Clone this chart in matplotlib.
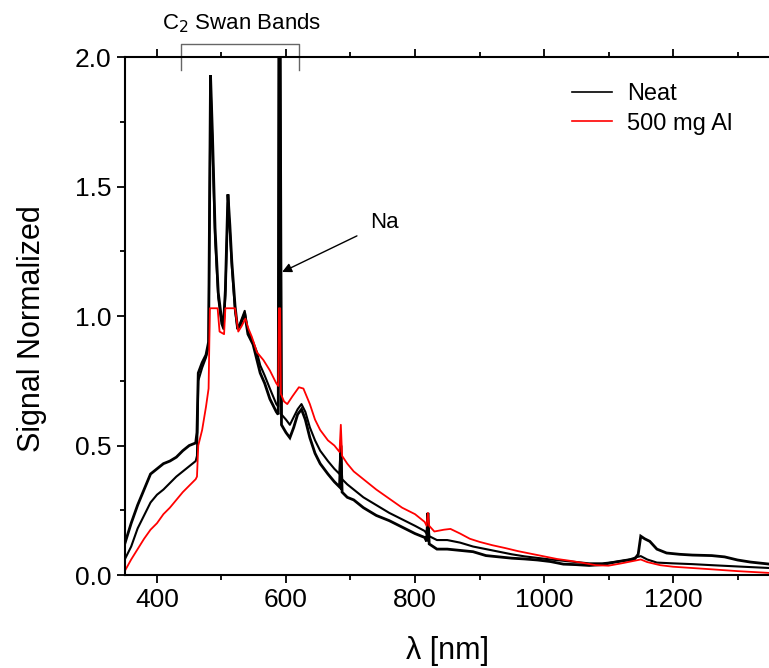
import matplotlib
matplotlib.use("Agg")
import matplotlib.pyplot as plt
from matplotlib.ticker import MultipleLocator, FormatStrFormatter

plt.rcParams['font.family'] = ['Liberation Sans', 'DejaVu Sans']

# ---- data ----
wl_red = [350, 360, 370, 380, 390, 400, 410, 420, 430, 440, 450, 460, 462, 464, 470, 476, 480,
          482, 494, 497, 504, 506, 521, 526, 531, 537, 542, 547, 555, 565, 575, 585, 588, 589,
          591, 592, 597, 602, 610, 620, 627, 637, 645, 653, 665, 675, 683, 685, 687, 695, 705,
          720, 740, 760, 780, 800, 815, 818, 820, 822, 830, 845, 855, 870, 885, 900, 920, 940,
          960, 980, 1000, 1020, 1040, 1060, 1080, 1100, 1120, 1140, 1150, 1160, 1180, 1200,
          1230, 1260, 1300, 1350]
sig_red = [0.015, 0.06, 0.10, 0.14, 0.175, 0.20, 0.235, 0.26, 0.29, 0.32, 0.345, 0.37, 0.38,
           0.50, 0.56, 0.65, 0.72, 1.03, 1.03, 0.94, 0.93, 1.03, 1.03, 0.94, 0.96, 0.99, 0.95,
           0.92, 0.86, 0.83, 0.79, 0.74, 0.73, 1.03, 1.03, 0.70, 0.67, 0.66, 0.69, 0.725, 0.72,
           0.66, 0.60, 0.56, 0.52, 0.50, 0.475, 0.58, 0.46, 0.43, 0.40, 0.37, 0.33, 0.295, 0.26,
           0.235, 0.205, 0.19, 0.24, 0.19, 0.168, 0.175, 0.178, 0.16, 0.14, 0.128, 0.115, 0.104,
           0.092, 0.082, 0.072, 0.062, 0.055, 0.047, 0.038, 0.036, 0.045, 0.055, 0.06, 0.05,
           0.038, 0.032, 0.027, 0.022, 0.015, 0.008]

wl_neat1 = [350, 360, 370, 380, 390, 400, 410, 420, 430, 440, 450, 460, 462, 464, 470, 476, 480,
            483, 486, 490, 495, 500, 503, 506, 510, 513, 516, 521, 525, 530, 536, 541, 549, 555,
            560, 567, 575, 585, 588, 589, 591, 593, 600, 606, 612, 618, 624, 630, 637, 645, 653,
            665, 675, 683, 685, 687, 695, 705, 720, 740, 760, 780, 800, 815, 818, 820, 822, 834,
            850, 870, 890, 910, 930, 950, 970, 990, 1010, 1030, 1050, 1070, 1090, 1110, 1130,
            1140, 1146, 1150, 1156, 1164, 1175, 1190, 1210, 1230, 1260, 1280, 1300, 1320, 1350]
sig_neat1 = [0.12, 0.20, 0.27, 0.33, 0.39, 0.41, 0.43, 0.44, 0.455, 0.48, 0.50, 0.51, 0.55, 0.78,
             0.82, 0.85, 0.90, 1.93, 1.70, 1.34, 1.09, 0.99, 0.96, 1.10, 1.47, 1.35, 1.21, 1.04,
             0.95, 0.97, 1.01, 0.93, 0.89, 0.83, 0.78, 0.74, 0.68, 0.63, 0.62, 2.05, 2.05, 0.58,
             0.55, 0.53, 0.57, 0.62, 0.64, 0.60, 0.53, 0.47, 0.43, 0.39, 0.36, 0.34, 0.50, 0.32,
             0.30, 0.29, 0.26, 0.23, 0.21, 0.185, 0.16, 0.145, 0.13, 0.24, 0.12, 0.10, 0.10, 0.095,
             0.09, 0.075, 0.07, 0.065, 0.062, 0.058, 0.052, 0.042, 0.04, 0.037, 0.04, 0.05, 0.058,
             0.06, 0.08, 0.15, 0.14, 0.13, 0.10, 0.085, 0.08, 0.077, 0.075, 0.07, 0.058, 0.05, 0.042]

wl_neat2 = [350, 360, 370, 380, 390, 400, 410, 420, 430, 440, 450, 460, 462, 464, 470, 476, 480,
            483, 486, 490, 495, 500, 503, 506, 510, 513, 516, 521, 525, 530, 536, 541, 549, 555,
            560, 567, 575, 585, 588, 589, 591, 593, 600, 606, 612, 618, 624, 630, 637, 645, 653,
            665, 675, 683, 685, 687, 695, 705, 720, 740, 760, 780, 800, 815, 818, 820, 822, 834,
            850, 870, 890, 910, 930, 950, 970, 990, 1010, 1030, 1050, 1070, 1090, 1110, 1130,
            1145, 1150, 1160, 1175, 1200, 1230, 1260, 1300, 1350]
sig_neat2 = [0.06, 0.11, 0.18, 0.23, 0.28, 0.31, 0.33, 0.355, 0.38, 0.40, 0.42, 0.44, 0.46, 0.75,
             0.80, 0.84, 0.88, 1.90, 1.66, 1.30, 1.07, 0.97, 0.95, 1.08, 1.44, 1.33, 1.19, 1.02,
             0.95, 0.98, 1.02, 0.94, 0.90, 0.86, 0.81, 0.77, 0.72, 0.66, 0.65, 2.05, 2.05, 0.62,
             0.60, 0.58, 0.61, 0.64, 0.66, 0.63, 0.57, 0.52, 0.48, 0.44, 0.41, 0.39, 0.52, 0.37,
             0.35, 0.33, 0.30, 0.27, 0.24, 0.215, 0.19, 0.17, 0.16, 0.22, 0.15, 0.135, 0.135,
             0.125, 0.11, 0.10, 0.09, 0.08, 0.072, 0.066, 0.06, 0.055, 0.05, 0.045, 0.045, 0.05,
             0.058, 0.07, 0.073, 0.06, 0.048, 0.045, 0.042, 0.038, 0.033, 0.027]

series_labels = ["Neat", "500 mg Al"]
bracket_range = [438, 620]
na_line = 589

# ---- figure ----
fig = plt.figure(figsize=(7.69, 6.68), dpi=100)
ax = fig.add_axes([0.1622, 0.1392, 0.8388, 0.7754])

ax.plot(wl_neat1, sig_neat1, color='black', lw=2.0, solid_joinstyle='miter')
ax.plot(wl_neat2, sig_neat2, color='black', lw=1.5, label=series_labels[0])
ax.plot(wl_red, sig_red, color='#ff0000', lw=1.3, label=series_labels[1])

ax.set_xlim(350, 1350)
ax.set_ylim(0, 2.0)
ax.xaxis.set_major_locator(MultipleLocator(200))
ax.xaxis.set_minor_locator(MultipleLocator(100))
ax.yaxis.set_major_locator(MultipleLocator(0.5))
ax.yaxis.set_minor_locator(MultipleLocator(0.25))
ax.yaxis.set_major_formatter(FormatStrFormatter('%.1f'))

for s in ['left', 'bottom', 'top']:
    ax.spines[s].set_linewidth(1.5)
ax.spines['right'].set_visible(False)
ax.tick_params(which='both', direction='out', top=True, labeltop=False, right=False,
               labelsize=19, width=1.3)
ax.tick_params(which='major', length=6)
ax.tick_params(which='minor', length=3.5)

ax.set_xlabel('λ [nm]', fontsize=22, labelpad=17)
ax.set_ylabel('Signal Normalized', fontsize=22)
ax.yaxis.set_label_coords(-0.12, 0.475)

leg = ax.legend(loc='upper left', bbox_to_anchor=(0.66, 0.99), frameon=False, fontsize=17,
                handlelength=1.7, handletextpad=0.65, labelspacing=0.3)
for h in leg.get_lines():
    h.set_linewidth(1.2)

# C2 Swan bands bracket
bx0, bx1 = bracket_range
ax.plot([bx0, bx0, bx1, bx1], [1.95, 2.05, 2.05, 1.95], color='#666666', lw=1.0, clip_on=False)
ax.text((bx0 + bx1) / 2 + 2, 2.085, 'C$_2$ Swan Bands', fontsize=16, ha='center', va='bottom')

# Na annotation
ax.annotate('Na', xy=(na_line + 5, 1.17), xytext=(752, 1.36), fontsize=16, ha='center', va='center',
            arrowprops=dict(arrowstyle='-|>', color='black', lw=1.0, mutation_scale=14,
                            shrinkA=8, shrinkB=0))

fig.savefig('out.png', dpi=100)
